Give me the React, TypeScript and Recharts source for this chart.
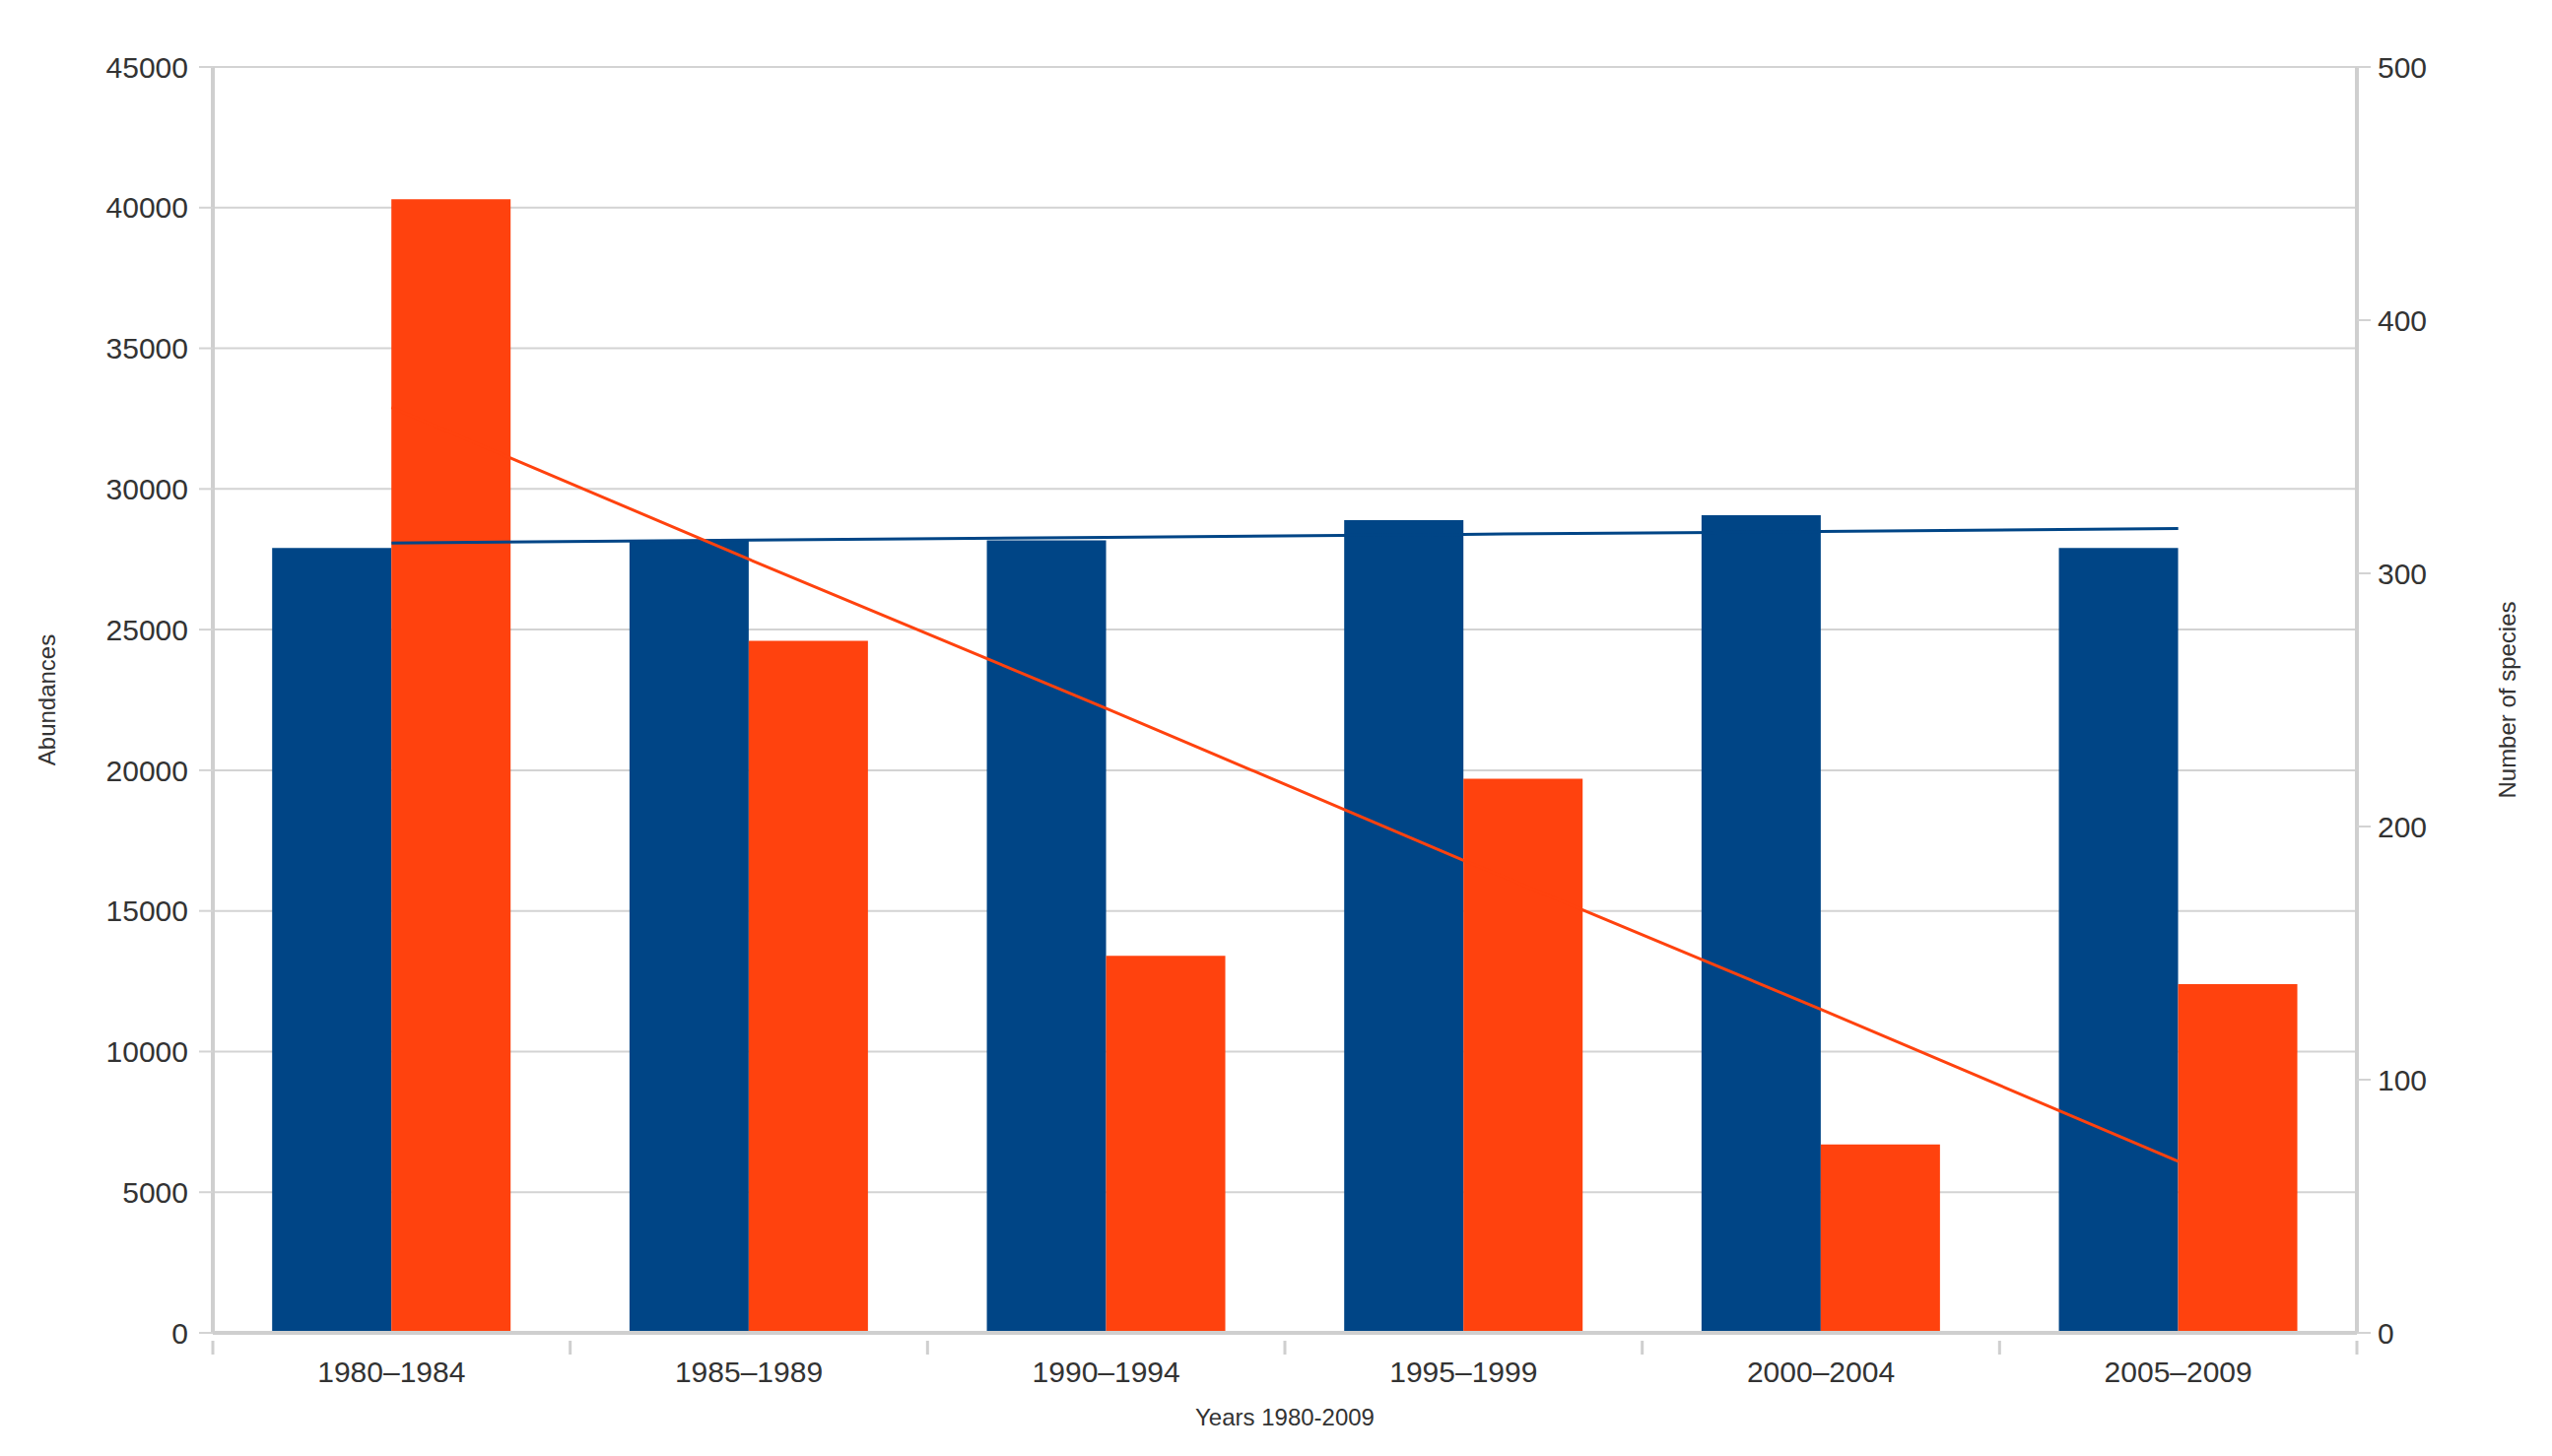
import React from "react";
import {
  ComposedChart,
  Bar,
  Line,
  XAxis,
  YAxis,
  CartesianGrid,
  Label,
} from "recharts";

const periods = ["1980–1984", "1985–1989", "1990–1994", "1995–1999", "2000–2004", "2005–2009"];
const species = [310, 313, 313, 321, 323, 310];
const abundances = [40300, 24600, 13400, 19700, 6700, 12400];
// trend lines
const speciesTrend = [312, 313.1, 314.2, 315.4, 316.5, 317.7];
const abundanceTrend = [32900, 27500, 22200, 16800, 11500, 6100];

const leftTicks = [0, 5000, 10000, 15000, 20000, 25000, 30000, 35000, 40000, 45000];
const rightTicks = [0, 100, 200, 300, 400, 500];

const data = periods.map((p, i) => ({
  period: p,
  species: species[i],
  abundances: abundances[i],
  speciesTrend: speciesTrend[i],
  abundanceTrend: abundanceTrend[i],
}));

const W = 2590;
const H = 1478;
const PLOT_LEFT = 216;
const PLOT_RIGHT = 2392;
const BAND = (PLOT_RIGHT - PLOT_LEFT) / periods.length;

const font = "'Liberation Sans', Arial, sans-serif";
const gridColor = "#d3d3d3";
const axisColor = "#cfcfcf";
const textColor = "#333333";

// ticks sit between the categories, labels in the middle
const CategoryTick = (props: any) => {
  const { x, y, payload, index } = props;
  const lines = [x - BAND / 2];
  if (index === periods.length - 1) lines.push(x + BAND / 2);
  return (
    <g>
      {lines.map((lx, k) => (
        <line key={k} x1={lx} x2={lx} y1={y} y2={y + 14} stroke={axisColor} strokeWidth={3} />
      ))}
      <text
        x={x}
        y={y + 19}
        dy="0.75em"
        textAnchor="middle"
        fill={textColor}
        fontSize={30}
        fontFamily={font}
      >
        {payload.value}
      </text>
    </g>
  );
};

export default function App() {
  return (
    <div style={{ position: "absolute", left: 0, top: 0, width: W, height: H, background: "#fff" }}>
      <ComposedChart
        width={W}
        height={H}
        data={data}
        margin={{ top: 68, right: 0, bottom: 0, left: 0 }}
        barGap={0}
        barCategoryGap="16.6%"
      >
        <CartesianGrid yAxisId="left" vertical={false} stroke={gridColor} strokeWidth={2} />
        <XAxis
          dataKey="period"
          height={125}
          axisLine={{ stroke: axisColor, strokeWidth: 4 }}
          tickLine={false}
          tick={<CategoryTick />}
          interval={0}
        >
          <Label
            value="Years 1980-2009"
            position="insideBottom"
            offset={31}
            fill={textColor}
            fontSize={24}
            fontFamily={font}
          />
        </XAxis>
        <YAxis
          yAxisId="left"
          width={PLOT_LEFT}
          domain={[0, 45000]}
          ticks={leftTicks}
          interval={0}
          axisLine={{ stroke: axisColor, strokeWidth: 4 }}
          tickLine={{ stroke: gridColor, strokeWidth: 2 }}
          tickSize={14}
          tickMargin={11}
          tick={{ fill: textColor, fontSize: 30, fontFamily: font }}
        >
          <Label
            value="Abundances"
            angle={-90}
            position="insideLeft"
            offset={47}
            style={{ textAnchor: "middle" }}
            fill={textColor}
            fontSize={24}
            fontFamily={font}
          />
        </YAxis>
        <YAxis
          yAxisId="right"
          orientation="right"
          width={W - PLOT_RIGHT}
          domain={[0, 500]}
          ticks={rightTicks}
          interval={0}
          axisLine={{ stroke: axisColor, strokeWidth: 4 }}
          tickLine={{ stroke: gridColor, strokeWidth: 2 }}
          tickSize={14}
          tickMargin={7}
          tick={{ fill: textColor, fontSize: 30, fontFamily: font, textAnchor: "start" }}
        >
          <Label
            value="Number of species"
            angle={-90}
            position="insideRight"
            offset={46}
            style={{ textAnchor: "middle" }}
            fill={textColor}
            fontSize={24}
            fontFamily={font}
          />
        </YAxis>
        <Bar yAxisId="right" dataKey="species" fill="#004586" isAnimationActive={false} />
        <Bar yAxisId="left" dataKey="abundances" fill="#ff420e" isAnimationActive={false} />
        <Line
          yAxisId="right"
          dataKey="speciesTrend"
          type="linear"
          stroke="#004586"
          strokeWidth={3}
          dot={false}
          activeDot={false}
          isAnimationActive={false}
        />
        <Line
          yAxisId="left"
          dataKey="abundanceTrend"
          type="linear"
          stroke="#ff420e"
          strokeWidth={3}
          dot={false}
          activeDot={false}
          isAnimationActive={false}
        />
      </ComposedChart>
    </div>
  );
}
